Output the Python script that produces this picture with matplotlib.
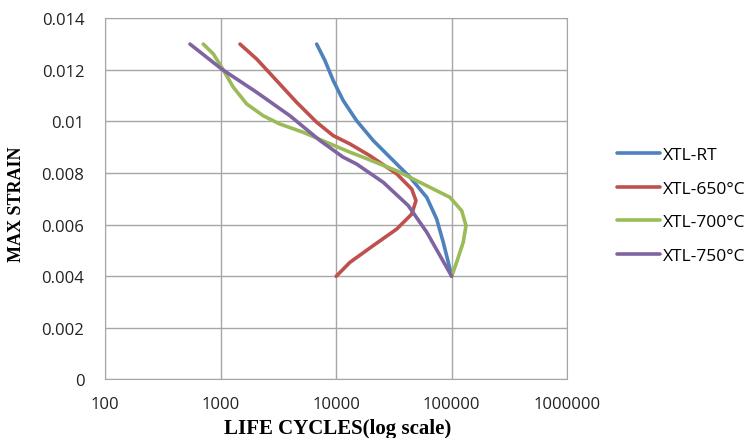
import matplotlib
matplotlib.use('Agg')
import matplotlib.pyplot as plt
import numpy as np

# curves: log10(life cycles) and max strain
rt_logn = [3.831, 3.903, 3.975, 4.061, 4.177, 4.321, 4.466, 4.639, 4.784,
           4.870, 4.927, 4.971, 5.0]
rt_strain = [0.01300, 0.01236, 0.01158, 0.01081, 0.01003, 0.00926, 0.00861,
             0.00784, 0.00706, 0.00622, 0.00532, 0.00454, 0.0040]

c650_logn = [3.167, 3.312, 3.485, 3.658, 3.831, 3.975, 4.119, 4.293, 4.524,
             4.654, 4.691, 4.654, 4.524, 4.321, 4.119, 4.0]
c650_strain = [0.01300, 0.01242, 0.01158, 0.01074, 0.00997, 0.00945, 0.00913,
               0.00867, 0.00797, 0.00738, 0.00693, 0.00641, 0.00583, 0.00519,
               0.00454, 0.0040]

c700_logn = [2.849, 2.936, 3.009, 3.109, 3.225, 3.369, 3.513, 3.715, 3.918,
             4.119, 4.235, 4.524, 4.784, 4.985, 5.087, 5.124, 5.100, 5.043, 5.0]
c700_strain = [0.01300, 0.01262, 0.01210, 0.01133, 0.01068, 0.01022, 0.00990,
               0.00958, 0.00919, 0.00881, 0.00861, 0.00809, 0.00751, 0.00706,
               0.00654, 0.00596, 0.00532, 0.00454, 0.0040]

c750_logn = [2.734, 3.009, 3.312, 3.600, 3.860, 4.059, 4.177, 4.408, 4.624,
             4.784, 4.899, 5.0]
c750_strain = [0.01300, 0.01203, 0.01113, 0.01022, 0.00926, 0.00862, 0.00835,
               0.00764, 0.00674, 0.00571, 0.00480, 0.0040]

labels = ['XTL-RT', 'XTL-650°C', 'XTL-700°C', 'XTL-750°C']
colors = ['#4F81BD', '#C0504D', '#9BBB59', '#8064A2']

xticks = [100, 1000, 10000, 100000, 1000000]
yticks = [0, 0.002, 0.004, 0.006, 0.008, 0.01, 0.012, 0.014]
ytick_labels = ['0', '0.002', '0.004', '0.006', '0.008', '0.01', '0.012', '0.014']

fig = plt.figure(figsize=(7.53, 4.39), dpi=100)
ax = fig.add_axes([0.1397, 0.1333, 0.6135, 0.8228])

series = [(rt_logn, rt_strain), (c650_logn, c650_strain),
          (c700_logn, c700_strain), (c750_logn, c750_strain)]
for (logn, strain), lab, col in zip(series, labels, colors):
    ax.plot(10 ** np.array(logn), strain, color=col, lw=2.6,
            solid_capstyle='round', solid_joinstyle='round', label=lab)

ax.set_xscale('log')
ax.set_xlim(100, 1000000)
ax.set_ylim(0, 0.014)
ax.set_xticks(xticks)
ax.set_xticklabels([str(v) for v in xticks])
ax.minorticks_off()
ax.set_yticks(yticks)
ax.set_yticklabels(ytick_labels)
ax.grid(True, color='#a6a6a6', lw=1.0)
ax.set_axisbelow(True)
for s in ax.spines.values():
    s.set_color('#a6a6a6')
ax.tick_params(length=0, labelsize=12, colors='#222222')
ax.tick_params(axis='y', pad=15)
ax.tick_params(axis='x', pad=12)
for t in ax.get_xticklabels() + ax.get_yticklabels():
    t.set_family('Open Sans')

ax.set_xlabel('LIFE CYCLES(log scale)', family='Liberation Serif',
              fontweight='bold', fontsize=15, va='center')
ax.xaxis.set_label_coords(0.503, -0.134)
ax.set_ylabel('MAX STRAIN', family='Liberation Serif',
              fontweight='bold', fontsize=13, va='center')
ax.yaxis.set_label_coords(-0.191, 0.489)

leg = ax.legend(loc='center left', bbox_to_anchor=(0.8194, 0.5296),
                bbox_transform=fig.transFigure, frameon=False,
                prop={'family': 'Open Sans', 'size': 12.5}, handlelength=2.47,
                handletextpad=0.17, labelspacing=1.0, borderpad=0,
                borderaxespad=0)

fig.savefig('out.png', dpi=100)
